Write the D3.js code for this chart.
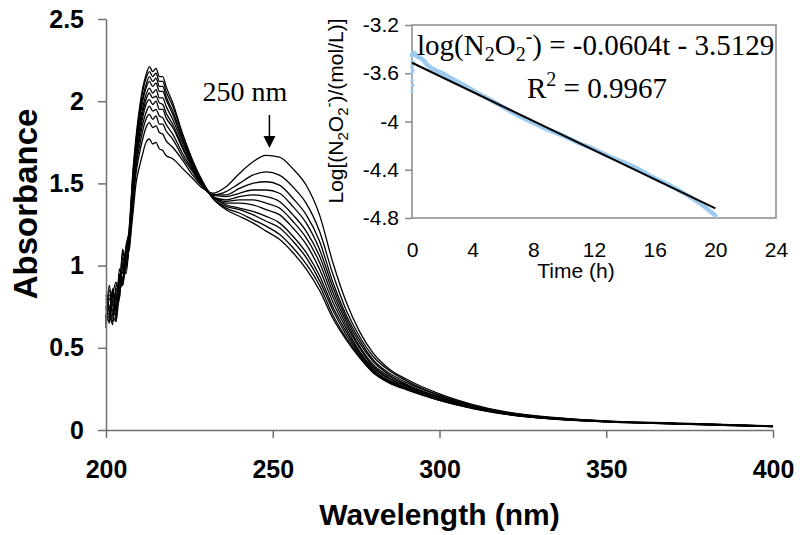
<!DOCTYPE html>
<html>
<head>
<meta charset="utf-8">
<script src="https://cdn.jsdelivr.net/npm/d3@7"></script>
<style>
  html, body { margin: 0; padding: 0; background: #fff; }
  svg { display: block; }
</style>
</head>
<body>
<svg id="chart" width="800" height="535"></svg>
<script>
// ---------- Main chart data ----------
const wavelengths = [200,201,202,203,204,205,206,207,208,209,210,211,212,213,214,215,216,217,218,220,223,226,229,232,236,240,244,248,252,256,260,264,268,272,276,280,285,290,300,310,320,335,350,375,400];

const spectrum0  = [0.62,0.80,0.70,0.66,0.84,0.92,1.00,1.12, 1.30,1.50,1.60,1.68,1.75,1.77,1.74,1.75,1.71,1.70,1.67, 1.65,1.59,1.53,1.47,1.44, 1.48,1.56,1.63,1.67,1.66,1.59,1.49,1.31,1.02,0.78,0.60,0.47, 0.37,0.31,0.22,0.155,0.110,0.075,0.055,0.040,0.025];
const spectrum1  = [0.70,0.66,0.85,0.74,0.80,1.02,0.95,1.15, 1.36,1.56,1.68,1.77,1.84,1.87,1.84,1.85,1.81,1.80,1.76, 1.72,1.64,1.55,1.48,1.43, 1.45,1.50,1.55,1.57,1.55,1.48,1.38,1.21,0.95,0.73,0.57,0.45, 0.36,0.30,0.21,0.150,0.107,0.073,0.054,0.039,0.024];
const spectrum2  = [0.78,0.72,0.64,0.88,0.86,0.90,1.08,1.10, 1.39,1.60,1.72,1.82,1.89,1.92,1.89,1.91,1.86,1.86,1.82, 1.77,1.66,1.57,1.48,1.43, 1.43,1.47,1.50,1.51,1.49,1.41,1.31,1.15,0.90,0.70,0.55,0.43, 0.345,0.29,0.21,0.146,0.105,0.071,0.053,0.038,0.023];
const spectrum3  = [0.66,0.85,0.76,0.70,0.95,0.88,1.04,1.18, 1.41,1.63,1.76,1.86,1.93,1.97,1.94,1.95,1.91,1.90,1.86, 1.80,1.68,1.58,1.49,1.43, 1.42,1.44,1.46,1.46,1.44,1.36,1.26,1.10,0.87,0.68,0.53,0.42, 0.335,0.28,0.20,0.144,0.103,0.070,0.053,0.038,0.023];
const spectrum4  = [0.74,0.68,0.82,0.90,0.80,1.05,0.98,1.14, 1.44,1.65,1.79,1.90,1.98,2.01,1.98,2.00,1.95,1.95,1.90, 1.84,1.71,1.59,1.49,1.42, 1.40,1.42,1.43,1.42,1.39,1.31,1.21,1.06,0.84,0.66,0.51,0.40, 0.325,0.275,0.20,0.141,0.102,0.070,0.052,0.037,0.022];
const spectrum5  = [0.82,0.75,0.68,0.78,0.92,0.96,1.10,1.20, 1.46,1.68,1.82,1.93,2.01,2.05,2.02,2.03,1.99,1.98,1.93, 1.86,1.72,1.60,1.50,1.42, 1.39,1.40,1.40,1.38,1.35,1.27,1.17,1.02,0.81,0.64,0.50,0.39, 0.315,0.27,0.20,0.139,0.101,0.069,0.052,0.037,0.022];
const spectrum6  = [0.68,0.88,0.72,0.84,0.86,1.08,1.00,1.16, 1.48,1.70,1.85,1.96,2.04,2.08,2.05,2.07,2.02,2.02,1.97, 1.89,1.74,1.61,1.50,1.42, 1.38,1.38,1.37,1.34,1.31,1.23,1.13,0.98,0.78,0.62,0.48,0.38, 0.31,0.265,0.19,0.137,0.099,0.068,0.051,0.037,0.022];
const spectrum7  = [0.76,0.70,0.86,0.66,0.98,0.92,1.12,1.22, 1.50,1.72,1.88,2.00,2.08,2.12,2.09,2.11,2.06,2.06,2.01, 1.92,1.76,1.62,1.50,1.42, 1.37,1.35,1.33,1.30,1.26,1.18,1.08,0.94,0.75,0.60,0.47,0.37, 0.30,0.26,0.19,0.135,0.098,0.067,0.051,0.036,0.021];
const spectrum8  = [0.64,0.82,0.78,0.80,0.90,1.00,1.06,1.18, 1.52,1.74,1.90,2.02,2.10,2.15,2.12,2.14,2.09,2.09,2.03, 1.94,1.77,1.62,1.50,1.41, 1.36,1.34,1.31,1.27,1.23,1.15,1.05,0.91,0.73,0.58,0.46,0.36, 0.295,0.255,0.19,0.134,0.097,0.066,0.051,0.036,0.021];
const spectrum9  = [0.80,0.72,0.66,0.86,0.84,1.10,1.02,1.24, 1.54,1.76,1.93,2.06,2.14,2.18,2.15,2.17,2.12,2.12,2.06, 1.97,1.79,1.63,1.51,1.41, 1.35,1.32,1.28,1.24,1.19,1.11,1.01,0.88,0.70,0.56,0.45,0.355, 0.29,0.25,0.18,0.132,0.096,0.066,0.050,0.035,0.020];
const spectrum10 = [0.75,0.65,0.85,0.72,0.95,0.88,1.10,1.20, 1.55,1.78,1.95,2.08,2.16,2.21,2.18,2.20,2.15,2.15,2.09, 1.99,1.80,1.64,1.51,1.41, 1.34,1.30,1.26,1.21,1.16,1.08,0.98,0.85,0.68,0.55,0.44,0.35, 0.285,0.245,0.18,0.130,0.095,0.065,0.050,0.035,0.020];
const spectra = [spectrum0,spectrum1,spectrum2,spectrum3,spectrum4,spectrum5,spectrum6,spectrum7,spectrum8,spectrum9,spectrum10];

const xTicks = [200,250,300,350,400];
const xTickLabels = ["200","250","300","350","400"];
const yTicks = [0,0.5,1,1.5,2,2.5];
const yTickLabels = ["0","0.5","1","1.5","2","2.5"];

// ---------- Inset data ----------
const times    = [0,0.1,0.2,0.3,0.5,0.8,1,2,3,4,5,6,7,8,9,10,11,12,13,14,15,16,17,18,19,20];
const logConc  = [-3.45,-3.43,-3.44,-3.46,-3.47,-3.50,-3.53,-3.60,-3.67,-3.74,-3.81,-3.88,-3.95,-4.01,-4.07,-4.12,-4.18,-4.23,-4.29,-4.34,-4.40,-4.47,-4.53,-4.60,-4.68,-4.78];
const earlyTimes = [0,0,0,0,0,0.05,0.05,0.1];
const earlyLog   = [-3.50,-3.55,-3.60,-3.66,-3.75,-3.58,-3.70,-3.52];
const fitTimes = [0,20];
const fitLog   = [-3.5129,-4.7209];
const insetXTicks = [0,4,8,12,16,20,24];
const insetXTickLabels = ["0","4","8","12","16","20","24"];
const insetYTicks = [-3.2,-3.6,-4,-4.4,-4.8];
const insetYTickLabels = ["-3.2","-3.6","-4","-4.4","-4.8"];

// ---------- Drawing ----------
const svg = d3.select("#chart");
const sans = "'Liberation Sans', Arial, sans-serif";
const serif = "'Liberation Serif', 'Times New Roman', serif";
const axisColor = "#707070";

const x = d3.scaleLinear().domain([200,400]).range([106,773]);
const y = d3.scaleLinear().domain([0,2.5]).range([430,19]);

// spectra
const line = d3.line()
  .x((d,i) => x(wavelengths[i]))
  .y(d => y(d))
  .curve(d3.curveMonotoneX);

svg.append("g").selectAll("path").data(spectra).join("path")
  .attr("d", line)
  .attr("fill","none")
  .attr("stroke","#000")
  .attr("stroke-width",1.3)
  .attr("stroke-linejoin","round");

// axes
const yAxis = d3.axisLeft(y).tickValues(yTicks)
  .tickFormat((d,i) => yTickLabels[i]).tickSize(8).tickSizeOuter(0).tickPadding(14);
const gy = svg.append("g").attr("transform","translate(106,0)").call(yAxis);
const xAxis = d3.axisBottom(x).tickValues(xTicks)
  .tickFormat((d,i) => xTickLabels[i]).tickSize(8).tickSizeOuter(0).tickPadding(22);
const gx = svg.append("g").attr("transform","translate(0,430)").call(xAxis);

[gx, gy].forEach(g => {
  g.select(".domain").attr("stroke",axisColor).attr("stroke-width",1.5);
  g.selectAll(".tick line").attr("stroke",axisColor).attr("stroke-width",1.5);
  g.selectAll(".tick text").attr("font-family",sans).attr("font-weight","bold")
    .attr("font-size",25).attr("fill","#000");
});

svg.append("text")
  .attr("transform","translate(37,204) rotate(-90)")
  .attr("text-anchor","middle")
  .attr("font-family",sans).attr("font-weight","bold").attr("font-size",33)
  .text("Absorbance");

svg.append("text")
  .attr("x",439.5).attr("y",525)
  .attr("text-anchor","middle")
  .attr("font-family",sans).attr("font-weight","bold").attr("font-size",30)
  .text("Wavelength (nm)");

// 250 nm annotation
svg.append("text")
  .attr("x",245).attr("y",101)
  .attr("text-anchor","middle")
  .attr("font-family",serif).attr("font-size",28)
  .text("250 nm");
const ax = x(249);
svg.append("line").attr("x1",ax).attr("x2",ax).attr("y1",115).attr("y2",138)
  .attr("stroke","#000").attr("stroke-width",1.5);
svg.append("path")
  .attr("d",`M${ax-6},136 L${ax+6},136 L${ax},148 Z`).attr("fill","#000");

// ---------- Inset ----------
const xi = d3.scaleLinear().domain([0,24]).range([412,776]);
const yi = d3.scaleLinear().domain([-4.8,-3.2]).range([218,25]);

svg.append("rect")
  .attr("x",xi(0)).attr("y",yi(-3.2))
  .attr("width",xi(24)-xi(0)).attr("height",yi(-4.8)-yi(-3.2))
  .attr("fill","none").attr("stroke","#8a8a8a").attr("stroke-width",1.5);

const giy = svg.append("g").attr("transform",`translate(${xi(0)},0)`)
  .call(d3.axisLeft(yi).tickValues(insetYTicks).tickFormat((d,i)=>insetYTickLabels[i])
    .tickSize(7).tickSizeOuter(0).tickPadding(6));
giy.select(".domain").remove();
giy.selectAll(".tick line").attr("stroke","#8a8a8a").attr("stroke-width",1.5);
giy.selectAll(".tick text").attr("font-family",sans).attr("font-size",21).attr("fill","#000");

const gix = svg.append("g").attr("transform",`translate(0,${yi(-4.8)})`)
  .call(d3.axisBottom(xi).tickValues(insetXTicks).tickFormat((d,i)=>insetXTickLabels[i])
    .tickSize(0).tickSizeOuter(0).tickPadding(24));
gix.select(".domain").remove();
gix.selectAll(".tick text").attr("font-family",sans).attr("font-size",21).attr("fill","#000");

svg.append("text")
  .attr("x",576).attr("y",278)
  .attr("text-anchor","middle")
  .attr("font-family",sans).attr("font-size",21)
  .text("Time (h)");

// inset y title
const yt = svg.append("text")
  .attr("transform","translate(343,111) rotate(-90)")
  .attr("text-anchor","middle")
  .attr("font-family",sans).attr("font-size",21);
yt.append("tspan").text("Log[(N");
yt.append("tspan").attr("dy",5).attr("font-size",15).text("2");
yt.append("tspan").attr("dy",-5).text("O");
yt.append("tspan").attr("dy",5).attr("font-size",15).text("2");
yt.append("tspan").attr("dy",-14).attr("font-size",15).text("-");
yt.append("tspan").attr("dy",9).text(")/(mol/L)]");

// blue data
const blueLine = d3.line().x((d,i)=>xi(times[i])).y(d=>yi(d)).curve(d3.curveMonotoneX);
svg.append("path").attr("d",blueLine(logConc))
  .attr("fill","none").attr("stroke","#9dcbf0").attr("stroke-width",4.5)
  .attr("stroke-linecap","round");
svg.append("g").selectAll("circle").data(earlyLog).join("circle")
  .attr("cx",(d,i)=>xi(earlyTimes[i])).attr("cy",d=>yi(d)).attr("r",1.8)
  .attr("fill","#9dcbf0");

// fit line
const fitLine = d3.line().x((d,i)=>xi(fitTimes[i])).y(d=>yi(d));
svg.append("path").attr("d",fitLine(fitLog))
  .attr("fill","none").attr("stroke","#000").attr("stroke-width",2);

// equation
const eq = svg.append("text").attr("x",417).attr("y",55)
  .attr("font-family",serif).attr("font-size",29);
eq.append("tspan").text("log(N");
eq.append("tspan").attr("dy",6).attr("font-size",20).text("2");
eq.append("tspan").attr("dy",-6).text("O");
eq.append("tspan").attr("dy",6).attr("font-size",20).text("2");
eq.append("tspan").attr("dy",-18).attr("font-size",20).text("-");
eq.append("tspan").attr("dy",12).text(") = -0.0604t - 3.5129");

const r2 = svg.append("text").attr("x",597).attr("y",98)
  .attr("text-anchor","middle")
  .attr("font-family",serif).attr("font-size",29);
r2.append("tspan").text("R");
r2.append("tspan").attr("dy",-12).attr("font-size",20).text("2");
r2.append("tspan").attr("dy",12).text(" = 0.9967");
</script>
</body>
</html>
